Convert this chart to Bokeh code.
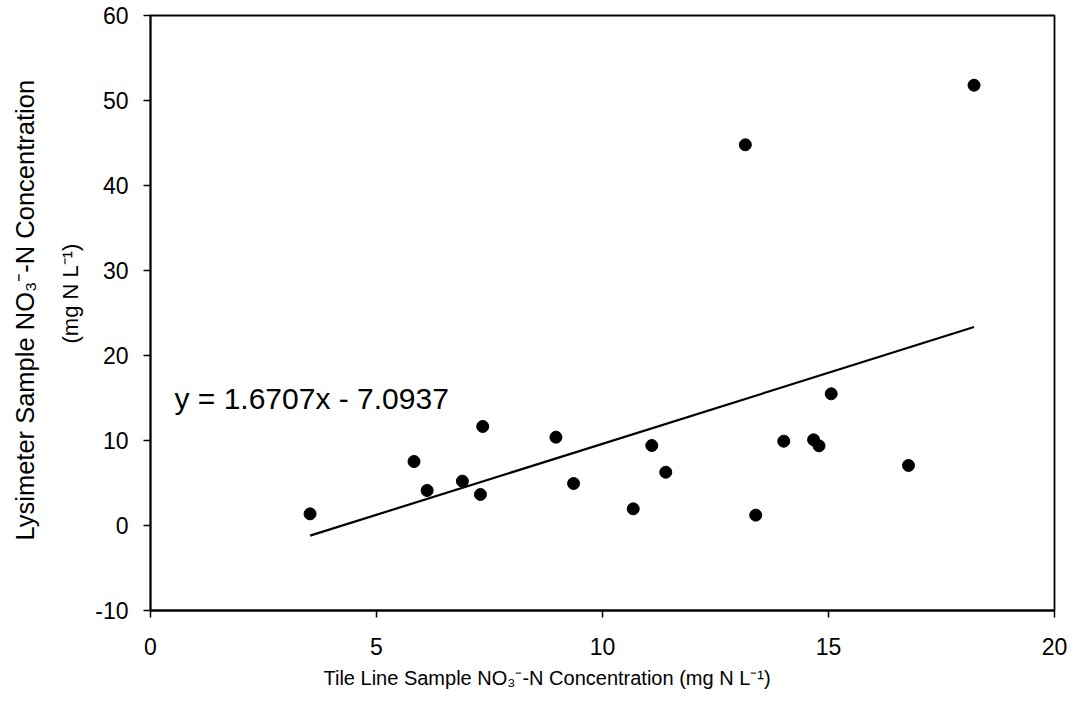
from bokeh.plotting import figure
from bokeh.models import Label, Range1d, FixedTicker, Title
from bokeh.embed import file_html
from bokeh.resources import INLINE

# Data
tile_x = [3.53, 5.83, 6.12, 6.90, 7.30, 7.35, 8.97, 9.36, 10.68, 11.09,
          11.40, 13.16, 13.39, 14.01, 14.67, 14.79, 15.06, 16.77, 18.22]
lys_y = [1.37, 7.53, 4.12, 5.22, 3.65, 11.65, 10.39, 4.94, 1.96, 9.41,
         6.27, 44.79, 1.22, 9.92, 10.08, 9.37, 15.49, 7.06, 51.80]
slope = 1.6707
intercept = -7.0937
x_ticks = [0, 5, 10, 15, 20]
y_ticks = [-10, 0, 10, 20, 30, 40, 50, 60]

FONT = "Liberation Sans"

p = figure(width=1073, height=709, output_backend="svg", toolbar_location=None,
           x_range=Range1d(0, 20), y_range=Range1d(-10, 60),
           min_border_left=149, min_border_right=19, min_border_top=15, min_border_bottom=99)
p.background_fill_color = "white"
p.border_fill_color = "white"
p.outline_line_color = "black"
p.outline_line_width = 1.8
p.xgrid.visible = False
p.ygrid.visible = False

for ax, ticks in ((p.xaxis[0], x_ticks), (p.yaxis[0], y_ticks)):
    ax.ticker = FixedTicker(ticks=ticks)
    ax.minor_tick_line_color = None
    ax.major_tick_in = 0
    ax.major_tick_out = 7
    ax.major_tick_line_color = "black"
    ax.major_tick_line_width = 1.5
    ax.axis_line_color = "black"
    ax.axis_line_width = 1.8
    ax.major_label_text_font = FONT
    ax.major_label_text_font_size = "23px"
    ax.major_label_text_color = "black"
    ax.major_label_overrides = {t: str(t) for t in ticks}
p.xaxis.major_label_standoff = 20
p.yaxis.major_label_standoff = 15

# trend line across the data extent
xmin, xmax = min(tile_x), max(tile_x)
p.line([xmin, xmax], [slope * xmin + intercept, slope * xmax + intercept],
       line_color="black", line_width=2.2)

p.scatter(tile_x, lys_y, size=12, fill_color="black", line_color="black", marker="circle")

eq_text = f"y = {slope:.4f}x - {abs(intercept):.4f}"
p.add_layout(Label(x=0.53, y=14.94, text=eq_text, text_font=FONT, text_font_size="30px",
                   text_color="black", text_baseline="alphabetic", text_align="left"))

# x axis label
p.add_layout(Title(text="Tile Line Sample NO\u2083\u207b-N Concentration (mg N L\u207b\u00b9)",
                   align="left", offset=173, text_font=FONT, text_font_size="20px",
                   text_font_style="normal", text_color="black", standoff=15), "below")
# y axis label (two lines), inner line first
p.add_layout(Title(text="(mg N L\u207b\u00b9)", align="left", offset=267,
                   text_font=FONT, text_font_size="22px", text_font_style="normal",
                   text_color="black", standoff=19), "left")
p.add_layout(Title(text="Lysimeter Sample NO\u2083\u207b-N Concentration", align="left", offset=70,
                   text_font=FONT, text_font_size="25.5px", text_font_style="normal",
                   text_color="black", standoff=16), "left")

open("out.html", "w").write(file_html(p, INLINE))
